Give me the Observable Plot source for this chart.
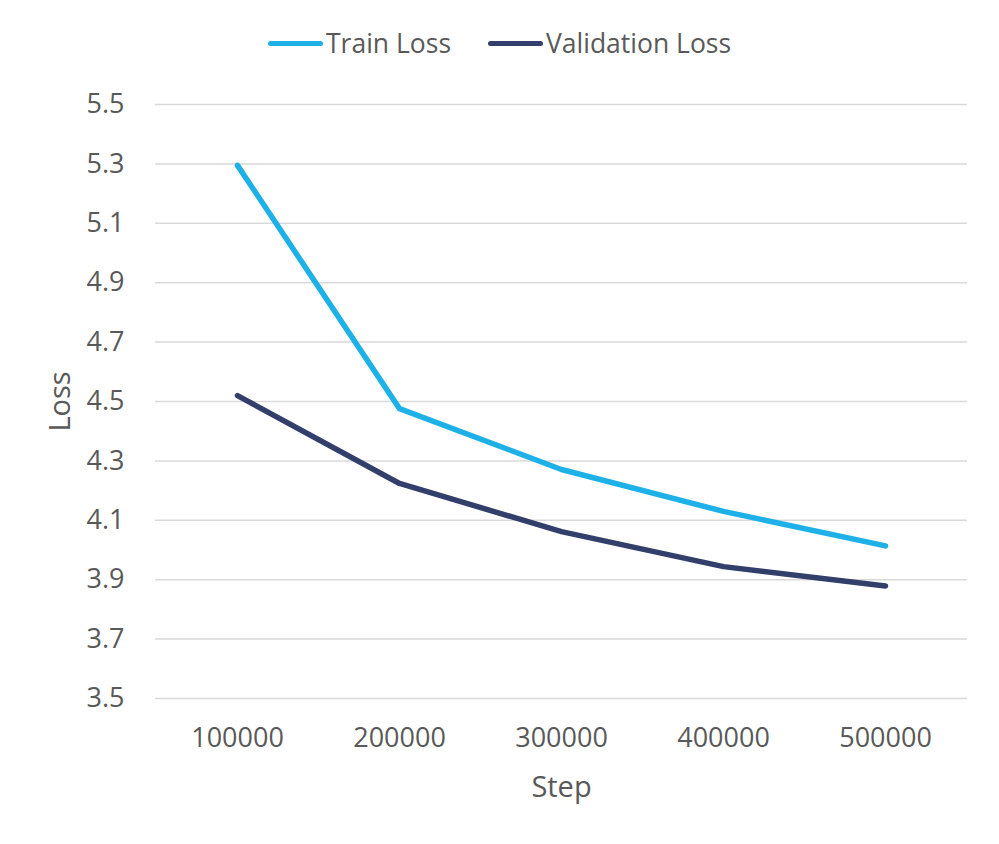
<!DOCTYPE html>
<html>
<head>
<meta charset="utf-8">
<script src="https://cdn.jsdelivr.net/npm/d3@7"></script>
<script src="https://cdn.jsdelivr.net/npm/@observablehq/plot@0.6"></script>
<style>
  html, body { margin: 0; padding: 0; background: #fff; }
  body { width: 999px; height: 844px; overflow: hidden; font-family: "Open Sans", sans-serif; color: #595959; }
  #legend { position: relative; height: 80px; }
  .item { position: absolute; top: 23px; display: flex; align-items: center; font-size: 26.5px; line-height: 40px; }
  .sw { display: inline-block; width: 55px; height: 5px; border-radius: 3px; margin-right: 3px; }
</style>
</head>
<body>
<div id="legend"></div>
<div id="chart"></div>
<script>
const steps = ["100000", "200000", "300000", "400000", "500000"];
const seriesNames = ["Train Loss", "Validation Loss"];
const trainLoss = [5.295, 4.476, 4.271, 4.130, 4.014];
const validationLoss = [4.520, 4.224, 4.062, 3.944, 3.879];
const yTicks = [3.5, 3.7, 3.9, 4.1, 4.3, 4.5, 4.7, 4.9, 5.1, 5.3, 5.5];
const colors = ["#1EB1E7", "#333F6B"];

const rows = [];
steps.forEach((s, i) => {
  rows.push({step: s, loss: trainLoss[i], series: seriesNames[0]});
});
steps.forEach((s, i) => {
  rows.push({step: s, loss: validationLoss[i], series: seriesNames[1]});
});

// legend
const legend = document.getElementById("legend");
const legendX = [268, 488];
seriesNames.forEach((name, i) => {
  const it = document.createElement("div");
  it.className = "item";
  it.style.left = legendX[i] + "px";
  const sw = document.createElement("span");
  sw.className = "sw";
  sw.style.background = colors[i];
  it.appendChild(sw);
  it.appendChild(document.createTextNode(name));
  legend.appendChild(it);
});

const chart = Plot.plot({
  width: 999,
  height: 764,
  marginTop: 24,
  marginBottom: 146,
  marginLeft: 155,
  marginRight: 32,
  style: {fontFamily: "Open Sans, sans-serif", fontSize: "27px", color: "#595959", background: "#fff"},
  x: {type: "point", domain: steps, padding: 0.5},
  y: {domain: [3.5, 5.5]},
  color: {domain: seriesNames, range: colors},
  marks: [
    Plot.gridY(yTicks, {stroke: "#d9d9d9", strokeOpacity: 1, strokeWidth: 1.5}),
    Plot.axisY(yTicks, {tickSize: 0, tickPadding: 31, tickFormat: d => d.toFixed(1), label: null}),
    Plot.axisX(steps, {tickSize: 0, tickPadding: 29, label: null}),
    Plot.text(["Loss"], {frameAnchor: "left", textAnchor: "middle", lineAnchor: "middle", dx: -95, rotate: -90, fontSize: 29, fill: "#595959"}),
    Plot.text(["Step"], {frameAnchor: "bottom", textAnchor: "middle", lineAnchor: "middle", dy: 89, fontSize: 29, fill: "#595959"}),
    Plot.line(rows, {x: "step", y: "loss", z: "series", stroke: "series", strokeWidth: 5.5, strokeLinecap: "round", strokeLinejoin: "round"})
  ]
});
document.getElementById("chart").appendChild(chart);
</script>
</body>
</html>
